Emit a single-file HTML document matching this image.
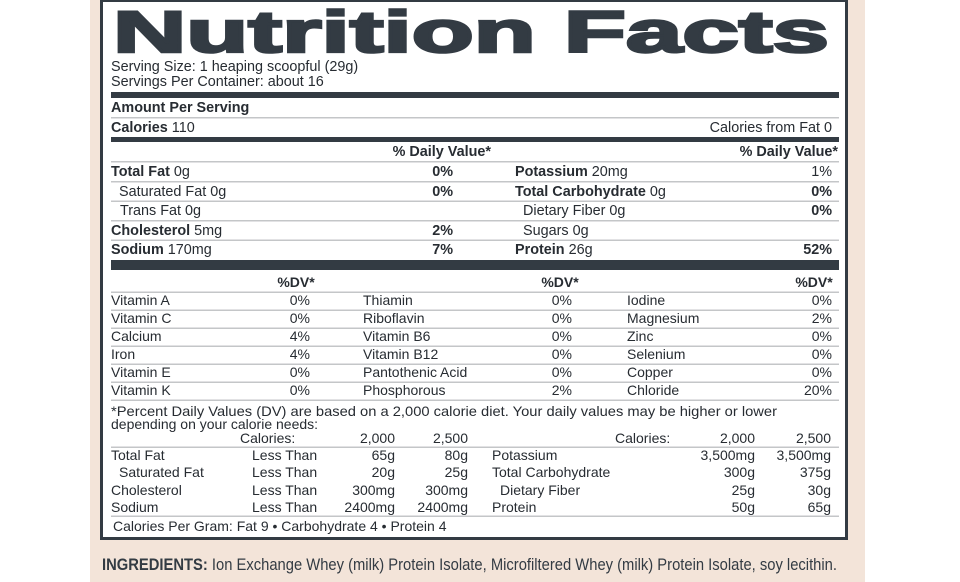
<!DOCTYPE html>
<html><head><meta charset="utf-8"><style>
html,body{margin:0;padding:0;background:#fff;}
svg{display:block}
text{font-family:"Liberation Sans",Arial,sans-serif;fill:#272c32;font-size:14.4px}
.b{font-weight:bold}
.r{text-anchor:end}
.m{text-anchor:middle}
.s text{font-size:14px}
</style></head><body>
<svg width="960" height="582" viewBox="0 0 960 582" xmlns="http://www.w3.org/2000/svg">
<rect x="90" y="0" width="775" height="582" fill="#f3e4d9"/>
<rect x="101.5" y="0.5" width="745" height="538" fill="#fff" stroke="#333b43" stroke-width="3"/>
<text x="113" y="52" textLength="716" lengthAdjust="spacingAndGlyphs" style="font-size:58px;font-weight:bold;fill:#333b43;stroke:#333b43;stroke-width:2.5">Nutrition Facts</text>
<text x="111" y="71">Serving Size: 1 heaping scoopful (29g)</text>
<text x="111" y="86">Servings Per Container: about 16</text>
<rect x="111" y="92" width="728" height="6" fill="#333b43"/>
<text x="111" y="112" class="b">Amount Per Serving</text>
<rect x="111" y="117" width="728" height="1.5" fill="#c4c6c8"/>
<text x="111" y="132" class="b">Calories <tspan font-weight="normal">110</tspan></text>
<text x="832" y="132" class="r">Calories from Fat 0</text>
<rect x="111" y="137" width="728" height="5" fill="#333b43"/>
<text x="491" y="156" class="r b">% Daily Value*</text>
<text x="838" y="156" class="r b">% Daily Value*</text>
<g fill="#c4c6c8">
<rect x="111" y="161" width="728" height="1.5"/>
<rect x="111" y="181" width="728" height="1.5"/>
<rect x="111" y="200.5" width="728" height="1.5"/>
<rect x="111" y="220" width="728" height="1.5"/>
<rect x="111" y="239.5" width="728" height="1.5"/>
</g>
<text x="111" y="176" class="b">Total Fat <tspan font-weight="normal">0g</tspan></text>
<text x="453" y="176" class="r b">0%</text>
<text x="515" y="176" class="b">Potassium <tspan font-weight="normal">20mg</tspan></text>
<text x="832" y="176" class="r">1%</text>
<text x="119" y="196">Saturated Fat 0g</text>
<text x="453" y="196" class="r b">0%</text>
<text x="515" y="196" class="b">Total Carbohydrate <tspan font-weight="normal">0g</tspan></text>
<text x="832" y="196" class="r b">0%</text>
<text x="120" y="215">Trans Fat 0g</text>
<text x="523" y="215">Dietary Fiber 0g</text>
<text x="832" y="215" class="r b">0%</text>
<text x="111" y="235" class="b">Cholesterol <tspan font-weight="normal">5mg</tspan></text>
<text x="453" y="235" class="r b">2%</text>
<text x="523" y="235">Sugars 0g</text>
<text x="111" y="254" class="b">Sodium <tspan font-weight="normal">170mg</tspan></text>
<text x="453" y="254" class="r b">7%</text>
<text x="515" y="254" class="b">Protein <tspan font-weight="normal">26g</tspan></text>
<text x="832" y="254" class="r b">52%</text>
<rect x="111" y="260" width="728" height="10" fill="#333b43"/>
<g class="s">
<text x="296" y="287" class="m b">%DV*</text>
<text x="560" y="287" class="m b">%DV*</text>
<text x="814" y="287" class="m b">%DV*</text>
</g>
<g fill="#c4c6c8">
<rect x="111" y="291.5" width="728" height="1.5"/>
<rect x="111" y="309.5" width="728" height="1.5"/>
<rect x="111" y="327.5" width="728" height="1.5"/>
<rect x="111" y="345.5" width="728" height="1.5"/>
<rect x="111" y="363.5" width="728" height="1.5"/>
<rect x="111" y="381.5" width="728" height="1.5"/>
<rect x="111" y="399.5" width="728" height="1.5"/>
<rect x="111" y="446.5" width="728" height="1.5"/>
<rect x="111" y="515.5" width="728" height="1.5"/>
</g>
<g class="s">
<text x="111" y="305">Vitamin A</text><text x="310" y="305" class="r">0%</text>
<text x="363" y="305">Thiamin</text><text x="572" y="305" class="r">0%</text>
<text x="627" y="305">Iodine</text><text x="832" y="305" class="r">0%</text>
<text x="111" y="323">Vitamin C</text><text x="310" y="323" class="r">0%</text>
<text x="363" y="323">Riboflavin</text><text x="572" y="323" class="r">0%</text>
<text x="627" y="323">Magnesium</text><text x="832" y="323" class="r">2%</text>
<text x="111" y="341">Calcium</text><text x="310" y="341" class="r">4%</text>
<text x="363" y="341">Vitamin B6</text><text x="572" y="341" class="r">0%</text>
<text x="627" y="341">Zinc</text><text x="832" y="341" class="r">0%</text>
<text x="111" y="359">Iron</text><text x="310" y="359" class="r">4%</text>
<text x="363" y="359">Vitamin B12</text><text x="572" y="359" class="r">0%</text>
<text x="627" y="359">Selenium</text><text x="832" y="359" class="r">0%</text>
<text x="111" y="377">Vitamin E</text><text x="310" y="377" class="r">0%</text>
<text x="363" y="377">Pantothenic Acid</text><text x="572" y="377" class="r">0%</text>
<text x="627" y="377">Copper</text><text x="832" y="377" class="r">0%</text>
<text x="111" y="395">Vitamin K</text><text x="310" y="395" class="r">0%</text>
<text x="363" y="395">Phosphorous</text><text x="572" y="395" class="r">2%</text>
<text x="627" y="395">Chloride</text><text x="832" y="395" class="r">20%</text>
</g>
<g class="s">
<text x="111" y="416" textLength="666" lengthAdjust="spacingAndGlyphs">*Percent Daily Values (DV) are based on a 2,000 calorie diet. Your daily values may be higher or lower</text>
<text x="111" y="429">depending on your calorie needs:</text>
<text x="240" y="443">Calories:</text><text x="395" y="443" class="r">2,000</text><text x="468" y="443" class="r">2,500</text>
<text x="615" y="443">Calories:</text><text x="755" y="443" class="r">2,000</text><text x="831" y="443" class="r">2,500</text>
<text x="111" y="460">Total Fat</text><text x="252" y="460">Less Than</text><text x="395" y="460" class="r">65g</text><text x="468" y="460" class="r">80g</text>
<text x="119" y="477">Saturated Fat</text><text x="252" y="477">Less Than</text><text x="395" y="477" class="r">20g</text><text x="468" y="477" class="r">25g</text>
<text x="111" y="495">Cholesterol</text><text x="252" y="495">Less Than</text><text x="395" y="495" class="r">300mg</text><text x="468" y="495" class="r">300mg</text>
<text x="111" y="512">Sodium</text><text x="252" y="512">Less Than</text><text x="395" y="512" class="r">2400mg</text><text x="468" y="512" class="r">2400mg</text>
<text x="492" y="460">Potassium</text><text x="755" y="460" class="r">3,500mg</text><text x="831" y="460" class="r">3,500mg</text>
<text x="492" y="477">Total Carbohydrate</text><text x="755" y="477" class="r">300g</text><text x="831" y="477" class="r">375g</text>
<text x="500" y="495">Dietary Fiber</text><text x="755" y="495" class="r">25g</text><text x="831" y="495" class="r">30g</text>
<text x="492" y="512">Protein</text><text x="755" y="512" class="r">50g</text><text x="831" y="512" class="r">65g</text>
<text x="113" y="531">Calories Per Gram: Fat 9 • Carbohydrate 4 • Protein 4</text>
</g>
<text x="102" y="570" textLength="735" lengthAdjust="spacingAndGlyphs" style="font-size:17px;font-family:'Liberation Sans Narrow','Liberation Sans',sans-serif;fill:#333b43"><tspan font-weight="bold">INGREDIENTS:</tspan> Ion Exchange Whey (milk) Protein Isolate, Microfiltered Whey (milk) Protein Isolate, soy lecithin.</text>
</svg>
</body></html>
